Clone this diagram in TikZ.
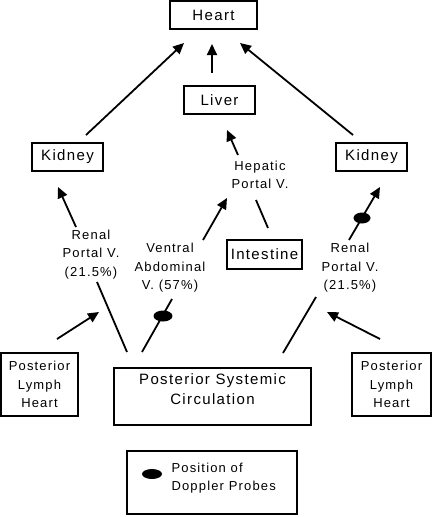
\documentclass[tikz,border=0pt]{standalone}
\usepackage{fontspec}
\setmainfont{Liberation Sans}
\newfontfamily\arialsp[LetterSpace=9]{Liberation Sans}
\usetikzlibrary{arrows.meta,shapes.geometric}
\tikzset{
  big/.style={font=\arialsp\fontsize{15}{20}\selectfont, align=center},
  small/.style={font=\arialsp\fontsize{13}{18.5}\selectfont, align=center},
  box/.style={draw, line width=1.3pt, inner sep=0pt},
  arr/.style={-{Triangle[length=11pt,width=10pt]}, line width=1.8pt},
  ln/.style={line width=1.8pt},
  probe/.style={ellipse, fill=black, draw=none, inner sep=0pt, minimum width=19pt, minimum height=11pt}
}
\begin{document}
\begin{tikzpicture}[x=1pt,y=-1pt]
\useasboundingbox[fill=white] (0,0) rectangle (432,517);
% boxes
\node[box,big,minimum width=87pt,minimum height=28pt] (heart) at (213.5,15) {Heart};
\node[box,big,minimum width=71pt,minimum height=28pt] (liver) at (219.5,100) {Liver};
\node[box,big,minimum width=71pt,minimum height=28pt] (kidL) at (67.5,157) {Kidney};
\node[box,big,minimum width=71pt,minimum height=28pt] (kidR) at (371.5,157) {Kidney};
\node[box,big,minimum width=75pt,minimum height=29pt] (intest) at (264.5,254.5) {Intestine};
\node[box,small,minimum width=77pt,minimum height=63pt] (plhL) at (39.5,384.5) {Posterior\\Lymph\\Heart};
\node[box,small,minimum width=79pt,minimum height=63pt] (plhR) at (391.5,384.5) {Posterior\\Lymph\\Heart};
\node[box,minimum width=197pt,minimum height=57pt,
  label={[big,yshift=7.5pt]center:Posterior Systemic\\Circulation}] (psc) at (212.5,396.5) {};
\node[box,minimum width=170pt,minimum height=63pt] (legend) at (212,482.5) {};
% labels
\node[small] (hpv) at (260,175) {Hepatic\\Portal V.};
\node[small] (rpvL) at (91,254.5) {Renal\\Portal V.\\(21.5\%)};
\node[small] (vav) at (170,268) {Ventral\\Abdominal\\V. (57\%)};
\node[small] (rpvR) at (350,268) {Renal\\Portal V.\\(21.5\%)};
% connector end points
\coordinate (kL1) at (86,135);  \coordinate (hL) at (184,43);
\coordinate (lv1) at (212,73);  \coordinate (hM) at (212,44);
\coordinate (kR1) at (353,135); \coordinate (hR) at (240,43);
\coordinate (hp1) at (238,155); \coordinate (lv2) at (227,130);
\coordinate (in1) at (268,228); \coordinate (hp2) at (256,200);
\coordinate (rl1) at (76,227);  \coordinate (kL2) at (58,187);
\coordinate (ps1) at (127,352); \coordinate (rl2) at (97,282);
\coordinate (va1) at (203,240); \coordinate (hp3) at (227,198);
\coordinate (ps2) at (142,352); \coordinate (va2) at (172,299);
\coordinate (rr1) at (349,240); \coordinate (kR2) at (380,187);
\coordinate (ps3) at (283,353); \coordinate (rr2) at (316,297);
\coordinate (lr1) at (380,339); \coordinate (rr3) at (327,312);
\coordinate (ll1) at (57,339);  \coordinate (rl3) at (99,312);
% connectors
\draw[arr] (kL1) -- (hL);
\draw[arr] (lv1) -- (hM);
\draw[arr] (kR1) -- (hR);
\draw[arr] (hp1) -- (lv2);
\draw[ln] (in1) -- (hp2);
\draw[arr] (rl1) -- (kL2);
\draw[ln] (ps1) -- (rl2);
\draw[arr] (va1) -- (hp3);
\draw[ln] (ps2) -- (va2);
\draw[arr] (rr1) -- (kR2);
\draw[ln] (ps3) -- (rr2);
\draw[arr] (lr1) -- (rr3);
\draw[arr] (ll1) -- (rl3);
% probes
\node[probe] (p1) at (163,316) {};
\node[probe,minimum width=17pt] (p2) at (362,218) {};
\node[probe,minimum width=20pt,minimum height=10pt] (p3) at (152,474) {};
\node[small,align=left,anchor=west] (legtext) at (168,478) {Position of\\Doppler Probes};
\end{tikzpicture}
\end{document}
